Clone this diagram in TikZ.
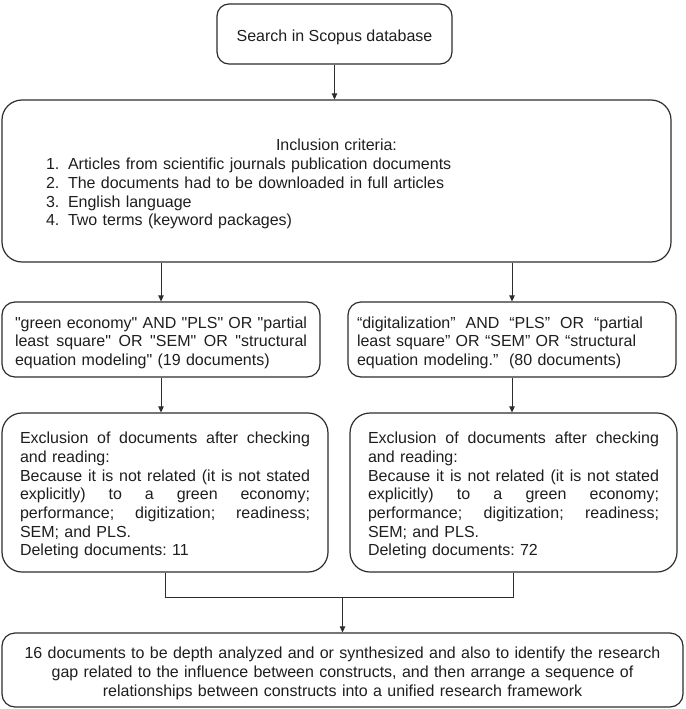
\documentclass[tikz,border=0pt]{standalone}
\usepackage{fontspec}
\setmainfont{Liberation Sans}[Ligatures=TeXOff]
\usetikzlibrary{arrows.meta}
\definecolor{linegray}{RGB}{45,45,45}
\definecolor{textgray}{RGB}{30,30,30}
\newcommand{\jline}[2][\hsize]{\makebox[#1][s]{\spaceskip=0pt\xspaceskip=0pt\relax #2}}

\begin{document}
\begin{tikzpicture}[x=1pt, y=-1pt,
  box/.style={draw=linegray, line width=1.2pt, text=textgray, inner sep=0pt,
    font=\fontsize{16pt}{18.7pt}\selectfont\frenchspacing,
    execute at begin node=\rule{0pt}{18pt}},
  arr/.style={draw=linegray, line width=0.9pt, -{Triangle[length=6pt,width=5.5pt]}},
  link/.style={draw=linegray, line width=0.9pt}]

% Canvas
\useasboundingbox (0,0) rectangle (685,709);

% Search
\node[box, rounded corners=12pt, minimum width=235pt, minimum height=60pt]
  (search) at (334.5,34) {Search in Scopus database};

% Inclusion criteria
\node[box, rounded corners=20pt, minimum width=669pt, minimum height=162pt,
  text width=581pt, align=left] (incl) at (336.5,181) {%
  \makebox[581pt]{Inclusion criteria:}\\
  \makebox[22pt][l]{1.}Articles from scientific journals publication documents\\
  \makebox[22pt][l]{2.}The documents had to be downloaded in full articles\\
  \makebox[22pt][l]{3.}English language\\
  \makebox[22pt][l]{4.}Two terms (keyword packages)};

% Keyword queries
\node[box, rounded corners=13pt, minimum width=318pt, minimum height=75pt,
  text width=292pt, align=left] (greenq) at (161,339.5) {%
  \jline{"green economy" AND "PLS" OR "partial}\\
  \jline{least square" OR "SEM" OR "structural}\\
  equation modeling" (19 documents)};
\node[box, rounded corners=13pt, minimum width=328pt, minimum height=75pt,
  text width=310pt, align=left] (digiq) at (512,339.5) {%
  \jline[286pt]{“digitalization” AND “PLS” OR “partial}\\
  least square” OR “SEM” OR “structural\\
  equation modeling.”\ \ (80 documents)};

% Exclusion
\node[box, rounded corners=20pt, minimum width=326pt, minimum height=159pt,
  text width=290pt, align=left] (exclg) at (165,492.5) {%
  \jline{Exclusion of documents after checking}\\
  and reading:\\
  \jline{Because it is not related (it is not stated}\\
  \jline{explicitly) to a green economy;}\\
  \jline{performance; digitization; readiness;}\\
  SEM; and PLS.\\
  Deleting documents: 11};
\node[box, rounded corners=20pt, minimum width=327pt, minimum height=159pt,
  text width=291pt, align=left] (excld) at (513.5,492.5) {%
  \jline{Exclusion of documents after checking}\\
  and reading:\\
  \jline{Because it is not related (it is not stated}\\
  \jline{explicitly) to a green economy;}\\
  \jline{performance; digitization; readiness;}\\
  SEM; and PLS.\\
  Deleting documents: 72};

% Result
\node[box, rounded corners=13pt, minimum width=681pt, minimum height=74pt,
  text width=660pt, align=center] (result) at (342.5,670) {%
  16 documents to be depth analyzed and or synthesized and also to identify the research\\
  gap related to the influence between constructs, and then arrange a sequence of\\
  relationships between constructs into a unified research framework};

% Arrows
\draw[arr] (search.south) -- (search.south |- incl.north);
\draw[arr] (incl.south -| greenq.north) -- (greenq.north);
\draw[arr] (incl.south -| digiq.north) -- (digiq.north);
\draw[arr] (greenq.south) -- (greenq.south |- exclg.north);
\draw[arr] (digiq.south) -- (digiq.south |- excld.north);

% Merge bracket
\draw[link] (exclg.south) -- ++(0,25) coordinate (jl) -- (jl -| excld.south) -- (excld.south);
\draw[arr] (jl -| result.north) -- (result.north);

\end{tikzpicture}
\end{document}
